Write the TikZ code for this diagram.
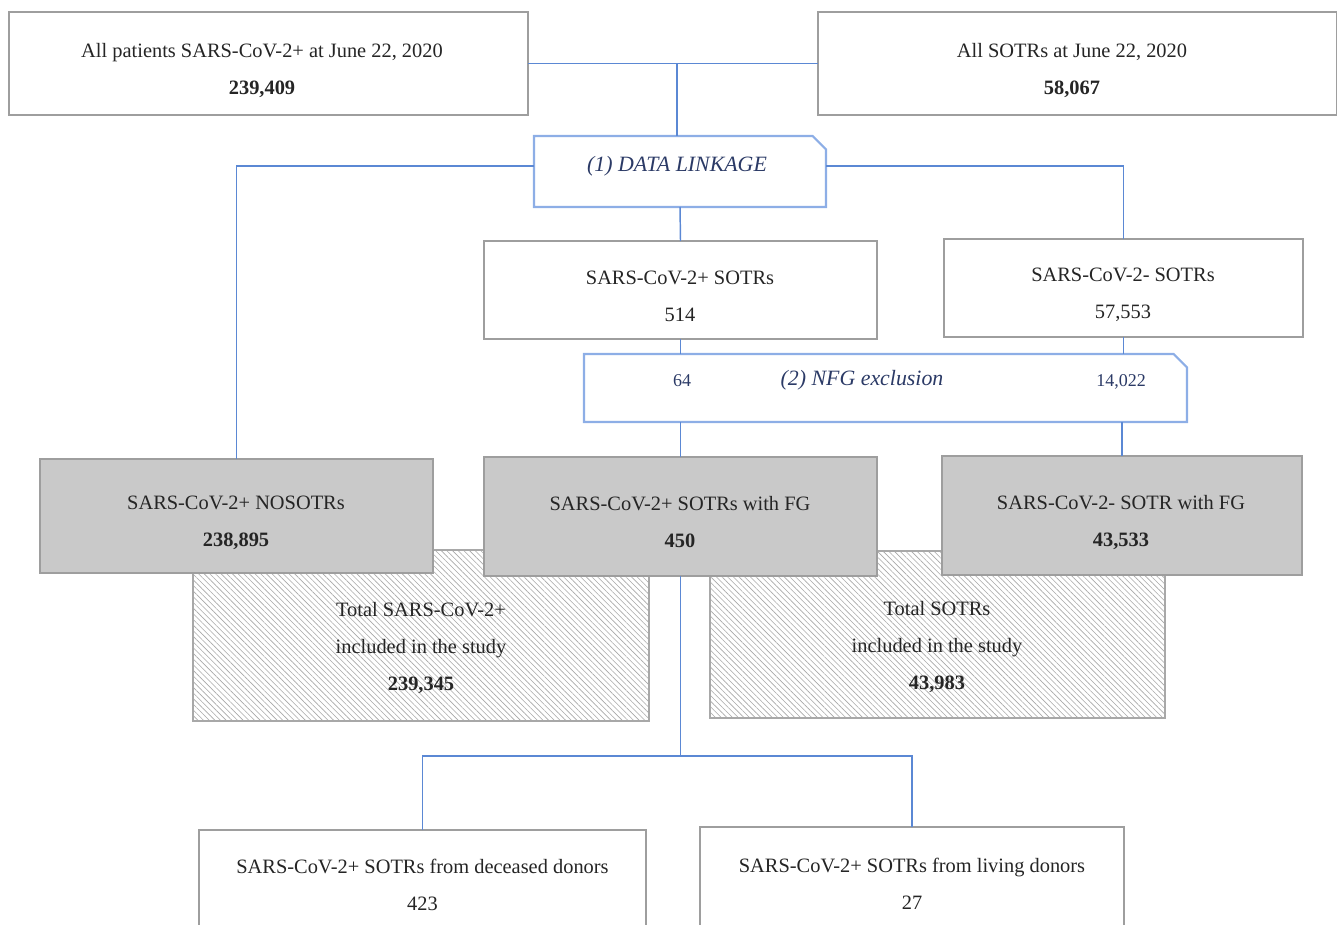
\documentclass[tikz,border=0pt]{standalone}
\usepackage{fontspec}
\setmainfont{Liberation Serif}
\usetikzlibrary{patterns.meta}
\definecolor{conn}{HTML}{5B88D4}
\definecolor{lkb}{HTML}{8DAEE6}
\definecolor{navy}{HTML}{2B3A66}
\definecolor{txt}{HTML}{252525}
\definecolor{bord}{HTML}{9E9E9E}
\definecolor{grayfill}{HTML}{C9C9C9}
\definecolor{hatch}{HTML}{A8A8A8}
\begin{document}
\begin{tikzpicture}[x=0.75pt,y=-0.75pt,
  every node/.style={inner sep=0pt,outer sep=0pt},
  mainfont/.style={font=\fontsize{15.3}{27.75}\selectfont,text=txt,align=center},
  wbox/.style={draw=bord,line width=1.3pt,fill=white,rectangle,mainfont},
  gbox/.style={draw=bord,line width=1.3pt,fill=grayfill,rectangle,mainfont},
  hbox/.style={draw=hatch,line width=1.1pt,fill=white,rectangle,
     postaction={pattern={Lines[angle=-45,distance=3pt,line width=0.45pt]},pattern color=hatch}},
  lkbox/.style={rectangle},
  lkline/.style={draw=lkb,line width=1.6pt,fill=white,line join=miter},
  lktext/.style={font=\fontsize{16.4}{20}\selectfont\itshape,text=navy},
  lknum/.style={font=\fontsize{13.5}{16}\selectfont,text=navy},
  conline/.style={draw=conn,line width=1.1pt}]
\useasboundingbox (0,0) rectangle (1337,924);
\clip (0,0) rectangle (1337,924);

% hatched totals (behind)
\node[hbox,minimum width=342pt,minimum height=128.25pt] (htl) at (421,635.5) {};
\node[hbox,minimum width=341.25pt,minimum height=125.25pt] (htr) at (937.5,634.5) {};
\node[mainfont] (htlt) at (421,648) {Total SARS-CoV-2+\\included in the study\\\textbf{239,345}};
\node[mainfont] (htrt) at (937,647) {Total SOTRs\\included in the study\\\textbf{43,983}};

% top boxes
\node[wbox,minimum width=389.25pt,minimum height=77.25pt] (tl) at (268.5,63.5) {};
\node[mainfont] (tlt) at (262,70.5) {All patients SARS-CoV-2+ at June 22, 2020\\\textbf{239,409}};
\node[wbox,minimum width=389.25pt,minimum height=77.25pt] (tr) at (1077.5,63.5) {};
\node[mainfont] (trt) at (1072,70.5) {All SOTRs at June 22, 2020\\\textbf{58,067}};

% linkage box
\node[lkbox,minimum width=219pt,minimum height=53.25pt] (DL) at (680,171.5) {};
\draw[lkline] (DL.south west) -- (DL.north west) -- ([xshift=-10pt]DL.north east)
  -- ([yshift=-10pt]DL.north east) -- (DL.south east) -- cycle;
\node[lktext] (DLt) at (677,166) {(1) DATA LINKAGE};

% second row
\node[wbox,minimum width=294.75pt,minimum height=73.5pt] (pos) at (680.5,290) {};
\node[mainfont] (post) at (680,296.5) {SARS-CoV-2+ SOTRs\\514};
\node[wbox,minimum width=269.25pt,minimum height=73.5pt] (neg) at (1123.5,288) {};
\node[mainfont] (negt) at (1123,294.5) {SARS-CoV-2- SOTRs\\57,553};

% NFG box
\node[lkbox,minimum width=452.25pt,minimum height=51pt] (NFG) at (885.5,388) {};
\draw[lkline] (NFG.south west) -- (NFG.north west) -- ([xshift=-10pt]NFG.north east)
  -- ([yshift=-10pt]NFG.north east) -- (NFG.south east) -- cycle;
\node[lktext] (NFGt) at (862,380) {(2) NFG exclusion};
\node[lknum] (n64) at (682,381) {64};
\node[lknum] (n14) at (1121,382) {14,022};

% gray boxes
\node[gbox,minimum width=294.75pt,minimum height=85.5pt] (nos) at (236.5,516) {};
\node[mainfont] (nost) at (236,522.5) {SARS-CoV-2+ NOSOTRs\\\textbf{238,895}};
\node[gbox,minimum width=294.75pt,minimum height=89.25pt] (fg) at (680.5,516.5) {};
\node[mainfont] (fgt) at (680,522.5) {SARS-CoV-2+ SOTRs with FG\\\textbf{450}};
\node[gbox,minimum width=270pt,minimum height=89.25pt] (sfg) at (1122,515.5) {};
\node[mainfont] (sfgt) at (1121,522.5) {SARS-CoV-2- SOTR with FG\\\textbf{43,533}};

% bottom boxes
\node[wbox,minimum width=335.25pt,minimum height=82.5pt] (dec) at (422.5,885)
  {SARS-CoV-2+ SOTRs from deceased donors\\423};
\node[wbox,minimum width=318pt,minimum height=84.75pt] (liv) at (912,883.5)
  {SARS-CoV-2+ SOTRs from living donors\\27};

\coordinate (split) at (680.5,756);

% connectors
\draw[conline] (tl.east) -- (tr.west);
\draw[conline] ([xshift=-2.25pt]tl.east -| DL.north) -- ([xshift=-2.25pt]DL.north);
\draw[conline] ([yshift=4pt]DL.west) -| (nos.north);
\draw[conline] ([yshift=4pt]DL.east) -| (neg.north);
\draw[conline] (DL.south) -- (pos.north);
\draw[conline] (pos.south) -- (pos.south |- NFG.north);
\draw[conline] (neg.south) -- (neg.south |- NFG.north);
\draw[conline] (NFG.south -| fg.north) -- (fg.north);
\draw[conline] (NFG.south -| sfg.north) -- (sfg.north);
\draw[conline] (fg.south) -- (split);
\draw[conline] (dec.north) |- (split) -| (liv.north);
\end{tikzpicture}
\end{document}
